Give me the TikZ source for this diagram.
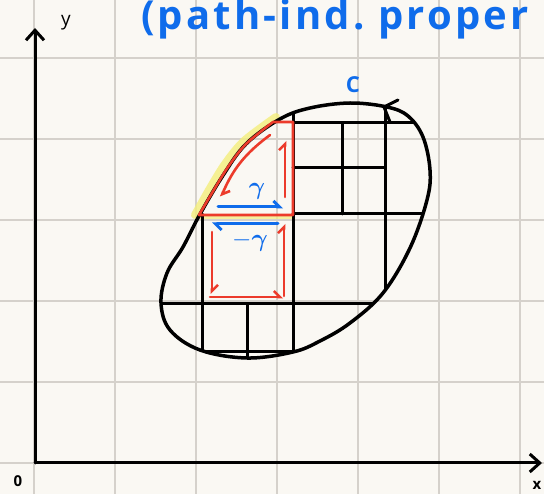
\documentclass[tikz,border=0pt]{standalone}
\usepackage{amsmath}
\usepackage{fontspec}
\setsansfont{Open Sans}
\newfontfamily\titlefont[LetterSpace=8]{Open Sans}
\usetikzlibrary{arrows.meta}
\definecolor{paper}{HTML}{FAF8F3}
\definecolor{gridgray}{HTML}{D5D1CB}
\definecolor{inkblue}{HTML}{0F6CEB}
\definecolor{inkred}{HTML}{EC3B2B}
\definecolor{marker}{HTML}{F4EE7C}
\tikzstyle{gridline}=[gridgray, line width=1.2pt]
\tikzstyle{ink}=[black, line width=3pt, line cap=round, line join=round]
\tikzstyle{redink}=[inkred, line width=2.6pt, line cap=round, line join=round]
\tikzstyle{blueink}=[inkblue, line width=3pt, line cap=round]
\tikzstyle{hook}=[-{Straight Barb[left, length=6pt, width=12pt]}]
\tikzstyle{every node}=[font=\sffamily, inner sep=0pt]

\begin{document}
\begin{tikzpicture}[x=1pt, y=-1pt]
    \useasboundingbox (0,0) rectangle (544,494);
    \fill[paper] (0,0) rectangle (544,494);
    \foreach \gx in {34,115,...,520} \draw[gridline] (\gx,0) -- (\gx,494);
    \foreach \gy in {58,139,...,463} \draw[gridline] (0,\gy) -- (544,\gy);

    % axes
    \coordinate (O) at (35,463);
    \coordinate (ytip) at (35,28);
    \coordinate (xtip) at (542,463);
    \draw[ink, -{Straight Barb[length=10pt, width=18pt]}] (O) -- (ytip);
    \draw[ink, -{Straight Barb[length=10pt, width=18pt]}] (O) -- (xtip);
    \node[font=\sffamily\fontsize{19}{19}\selectfont] (ylabel) at (66,23) {y};
    \node[font=\sffamily\bfseries\fontsize{15}{15}\selectfont] (zero) at (18,481) {0};
    \node[font=\sffamily\bfseries\fontsize{15}{15}\selectfont] (xlabel) at (537,485) {x};

    % title
    \node[inkblue, anchor=base west, font=\titlefont\bfseries\fontsize{40}{40}\selectfont] (title) at (141,30) {(path-ind.\ proper};

    % curve C
    \path[save path=\blob] plot[smooth cycle, tension=0.6] coordinates {
        (387,107) (350,103) (310,108) (280,119) (246,144) (222,177) (199,216)
        (183,247) (167,273) (161,303) (170,330) (200,350) (247,358) (293,352)
        (320,341) (350,323) (383,293) (410,248) (427,200) (430,170) (423,137) (408,116)};
    \node[inkblue, font=\sffamily\bfseries\fontsize{22}{22}\selectfont] (clabel) at (353,85) {C};

    % highlighted piece
    \draw[marker, line width=8pt, opacity=0.8, line cap=round] plot[smooth] coordinates {(195,215) (209,190) (225,164) (244,141) (276,117)};
    \draw[marker, line width=4pt, opacity=0.7] (199,217) -- (293,217);

    % squares inside C
    \begin{scope}
        \clip[use path=\blob];
        \draw[ink] (293,80) -- (293,400);
        \draw[ink] (202,214) -- (202,400);
        \draw[ink] (247,304) -- (247,400);
        \draw[ink] (342,123) -- (342,214);
        \draw[ink] (385,80) -- (385,400);
        \draw[ink] (293,123) -- (460,123);
        \draw[ink] (293,168) -- (385,168);
        \draw[ink] (293,214) -- (460,214);
        \draw[ink] (100,304) -- (460,304);
        \draw[ink] (202,352) -- (293,352);
    \end{scope}
    \draw[ink, line width=3.5pt, use path=\blob];
    \draw[ink] (398,100) -- (384,107) -- (390,122);

    % red region and its boundary
    \draw[redink] plot[smooth] coordinates {(199,215) (212,193) (228,167) (246,144) (273,122)} -- (293,122) -- (293,215) -- cycle;
    \draw[redink, hook] (270,135) to[bend right=15] (221,197);
    \draw[redink, hook] (285,197) -- (285,141);
    \draw[blueink, hook] (218,207) -- (283,207);
    \node[inkblue, font=\fontsize{24}{24}\selectfont] (gamma) at (257,191) {$\boldsymbol{\gamma}$};

    % square below
    \draw[blueink, hook] (278,224) -- (212,224);
    \node[inkblue, font=\fontsize{24}{24}\selectfont] (mgamma) at (250,242) {$-\boldsymbol{\gamma}$};
    \draw[redink, hook] (212,232) -- (212,294);
    \draw[redink, hook] (210,297) -- (283,297);
    \draw[redink, hook] (284,296) -- (284,224);
\end{tikzpicture}
\end{document}
